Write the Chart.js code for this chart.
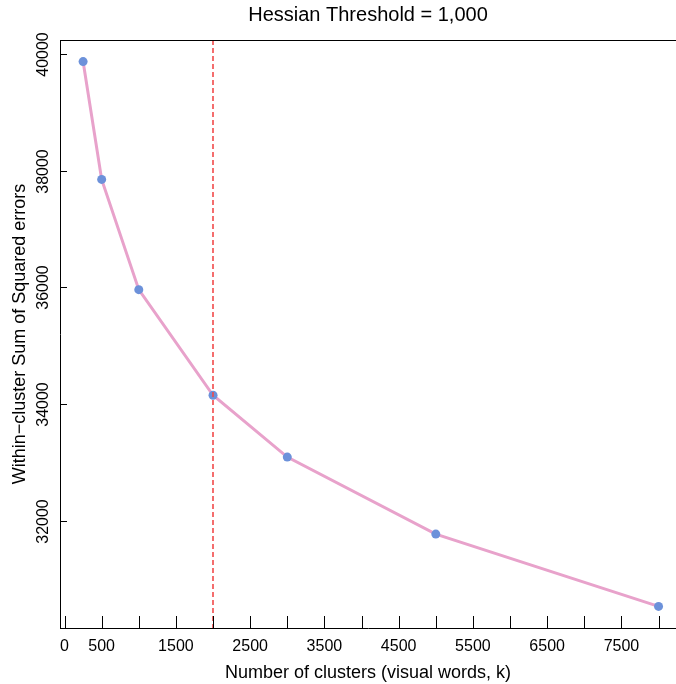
<!DOCTYPE html>
<html>
<head>
<meta charset="utf-8">
<script src="https://cdn.jsdelivr.net/npm/chart.js@4"></script>
<style>
  html, body { margin: 0; padding: 0; background: #fff; }
  #wrap { width: 676px; height: 684px; }
</style>
</head>
<body>
<div id="wrap"><canvas id="elbowChart" width="676" height="684"></canvas></div>
<script>
// data
var clusterCounts = [250, 500, 1000, 2000, 3000, 5000, 8000];
var sseValues = [39870, 37850, 35960, 34150, 33090, 31770, 30530];
var xTickValues = [0, 500, 1000, 1500, 2000, 2500, 3000, 3500, 4000, 4500, 5000, 5500, 6000, 6500, 7000, 7500, 8000];
var xTickLabels = ['0', '500', '', '1500', '', '2500', '', '3500', '', '4500', '', '5500', '', '6500', '', '7500', ''];
var yTickValues = [32000, 34000, 36000, 38000, 40000];
var chosenK = 2000;

var FONT = "'Liberation Sans', Arial, Helvetica, sans-serif";

// box, inward ticks, rotated y labels, dashed marker
var framePlugin = {
  id: 'frame',
  afterDraw: function(chart) {
    var ctx = chart.ctx;
    var area = chart.chartArea;
    var xs = chart.scales.x;
    var ys = chart.scales.y;
    ctx.save();

    // dashed line at chosen k
    var xk = Math.round(xs.getPixelForValue(chosenK));
    ctx.strokeStyle = '#F24A4A';
    ctx.lineWidth = 1.6;
    ctx.setLineDash([5, 3]);
    ctx.beginPath();
    ctx.moveTo(xk, area.top);
    ctx.lineTo(xk, area.bottom);
    ctx.stroke();
    ctx.setLineDash([]);

    ctx.strokeStyle = '#000';
    ctx.lineWidth = 1;
    // top line
    ctx.beginPath();
    ctx.moveTo(area.left, area.top + 0.5);
    ctx.lineTo(area.right, area.top + 0.5);
    ctx.stroke();

    // x ticks (inward)
    xs.ticks.forEach(function(t) {
      var px = Math.round(xs.getPixelForValue(t.value)) + 0.5;
      ctx.beginPath();
      ctx.moveTo(px, area.bottom);
      ctx.lineTo(px, area.bottom - 12);
      ctx.stroke();
    });

    // y ticks (inward) + rotated labels
    ctx.font = '16px ' + FONT;
    ctx.fillStyle = '#000';
    ctx.textAlign = 'center';
    ctx.textBaseline = 'middle';
    ys.ticks.forEach(function(t) {
      var py = Math.round(ys.getPixelForValue(t.value)) + 0.5;
      ctx.beginPath();
      ctx.moveTo(area.left, py);
      ctx.lineTo(area.left + 7, py);
      ctx.stroke();
      ctx.save();
      ctx.translate(44, py);
      ctx.rotate(-Math.PI / 2);
      ctx.fillText(String(t.value), 0, 0);
      ctx.restore();
    });
    ctx.restore();
  }
};

var ctxElbow = document.getElementById('elbowChart').getContext('2d');
var elbowChart = new Chart(ctxElbow, {
  type: 'line',
  data: {
    datasets: [{
      label: 'SSE',
      data: clusterCounts.map(function(k, i) { return { x: k, y: sseValues[i] }; }),
      borderColor: '#E8A2CB',
      borderWidth: 3,
      pointRadius: 4.5,
      pointBackgroundColor: '#6C91DA',
      pointBorderColor: '#6C91DA',
      pointBorderWidth: 0,
      fill: false,
      tension: 0
    }]
  },
  options: {
    responsive: false,
    animation: false,
    layout: { autoPadding: false, padding: 0 },
    scales: {
      x: {
        type: 'linear',
        min: -61,
        max: 8235,
        afterBuildTicks: function(scale) {
          scale.ticks = xTickValues.map(function(v) { return { value: v }; });
        },
        afterFit: function(scale) { scale.height = 56; },
        grid: { display: false, drawTicks: false },
        border: { display: true, color: '#000', width: 1 },
        ticks: {
          autoSkip: false,
          maxRotation: 0,
          padding: 9,
          color: '#000',
          font: { family: FONT, size: 16 },
          callback: function(value) {
            var i = xTickValues.indexOf(value);
            return i >= 0 ? xTickLabels[i] : '';
          }
        },
        title: {
          display: true,
          text: 'Number of clusters (visual words, k)',
          color: '#000',
          font: { family: FONT, size: 18 },
          padding: { top: 0, bottom: 0 }
        }
      },
      y: {
        type: 'linear',
        min: 30160,
        max: 40240,
        afterBuildTicks: function(scale) {
          scale.ticks = yTickValues.map(function(v) { return { value: v }; });
        },
        afterFit: function(scale) { scale.width = 60; },
        grid: { display: false, drawTicks: false },
        border: { display: true, color: '#000', width: 1 },
        ticks: { display: false },
        title: {
          display: true,
          text: 'Within\u2212cluster Sum of Squared errors',
          color: '#000',
          font: { family: FONT, size: 18 },
          padding: { top: 9, bottom: 0 }
        }
      }
    },
    plugins: {
      legend: { display: false },
      tooltip: { enabled: false },
      title: {
        display: true,
        fullSize: false,
        text: 'Hessian Threshold = 1,000',
        color: '#000',
        font: { family: FONT, size: 20, weight: 'normal' },
        padding: { top: 3, bottom: 13 }
      }
    }
  },
  plugins: [framePlugin]
});
</script>
</body>
</html>
